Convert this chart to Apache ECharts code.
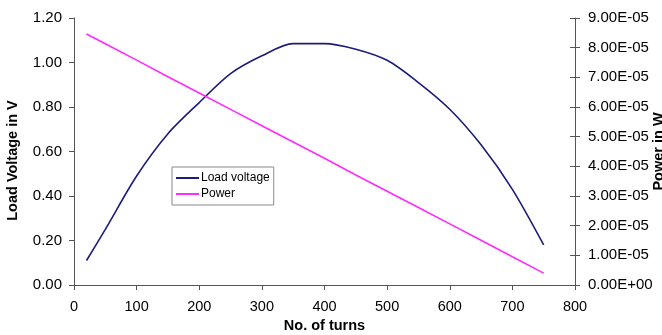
<!DOCTYPE html>
<html>
<head>
<meta charset="utf-8">
<script src="https://cdn.jsdelivr.net/npm/echarts@6/dist/echarts.min.js"></script>
<style>
html, body { margin: 0; padding: 0; background: #fff; }
#chart { width: 662px; height: 335px; }
</style>
</head>
<body>
<div id="chart"></div>
<script>
// values
var turns = [20, 50, 100, 150, 200, 250, 300, 350, 400, 450, 500, 550, 600, 650, 700, 750];
var loadVoltage = [0.11, 0.25, 0.49, 0.68, 0.82, 0.95, 1.03, 1.085, 1.085, 1.06, 1.01, 0.91, 0.79, 0.63, 0.43, 0.18];
var power = [8.46e-5, 8.13e-5, 7.58e-5, 7.02e-5, 6.47e-5, 5.92e-5, 5.37e-5, 4.82e-5, 4.27e-5, 3.71e-5, 3.16e-5, 2.61e-5, 2.06e-5, 1.51e-5, 0.95e-5, 0.40e-5];

var font = 'Liberation Sans';
var axisColor = '#555';

function pairs(xs, ys) {
    return xs.map(function (x, i) { return [x, ys[i]]; });
}

var chart = echarts.init(document.getElementById('chart'));

var options = {
    animation: false,

    // Setup grid
    grid: { left: 74, right: 87, top: 18, bottom: 50, outerBoundsMode: 'none' },

    // Legend box inside the plot
    legend: {
        orient: 'vertical',
        left: 172,
        top: 167,
        padding: [5, 4, 5, 4],
        itemGap: 4,
        itemWidth: 23,
        itemHeight: 2,
        icon: 'rect',
        borderColor: '#888',
        borderWidth: 1,
        textStyle: { fontFamily: font, fontSize: 12, color: '#000', padding: [0, 0, 0, -3] },
        data: ['Load voltage', 'Power']
    },

    // Horizontal axis
    xAxis: [{
        type: 'value',
        min: 0,
        max: 800,
        interval: 100,
        name: 'No. of turns',
        nameLocation: 'middle',
        nameGap: 33,
        nameMoveOverlap: false,
        nameTextStyle: { fontFamily: font, fontSize: 14.5, fontWeight: 'bold', color: '#000' },
        axisLine: { lineStyle: { color: axisColor } },
        axisTick: { length: 5, lineStyle: { color: axisColor } },
        axisLabel: { fontFamily: font, fontSize: 14.5, color: '#000', margin: 14 },
        splitLine: { show: false }
    }],

    // Vertical axes
    yAxis: [{
        type: 'value',
        position: 'left',
        min: 0,
        max: 1.2,
        interval: 0.2,
        name: 'Load Voltage in V',
        nameLocation: 'middle',
        nameGap: 54,
        nameMoveOverlap: false,
        nameTextStyle: { fontFamily: font, fontSize: 14.5, fontWeight: 'bold', color: '#000', padding: [0, 0, 0, -18] },
        axisLine: { show: true, lineStyle: { color: axisColor } },
        axisTick: { show: true, length: 5, lineStyle: { color: axisColor } },
        axisLabel: { fontFamily: font, fontSize: 15, color: '#000', margin: 12,
            formatter: function (v) { return v.toFixed(2); } },
        splitLine: { show: false }
    }, {
        type: 'value',
        position: 'right',
        offset: 0,
        min: 0,
        max: 9e-5,
        interval: 1e-5,
        name: 'Power in W',
        nameLocation: 'middle',
        nameGap: 76,
        nameRotate: 90,
        nameMoveOverlap: false,
        nameTextStyle: { fontFamily: font, fontSize: 14.5, fontWeight: 'bold', color: '#000' },
        axisLine: { show: true, lineStyle: { color: axisColor } },
        axisTick: { show: true, length: 5, lineStyle: { color: axisColor } },
        axisLabel: { fontFamily: font, fontSize: 15, color: '#000', margin: 13,
            formatter: function (v) {
                var s = v.toExponential(2).toUpperCase();
                return s.replace(/E([+-])(\d)$/, 'E$10$2');
            } },
        splitLine: { show: false }
    }, {
        // inner half of the crossing ticks on the right axis
        type: 'value',
        position: 'right',
        offset: 0,
        min: 0,
        max: 9e-5,
        interval: 1e-5,
        axisLine: { show: false },
        axisTick: { show: true, inside: true, length: 5, lineStyle: { color: axisColor } },
        axisLabel: { show: false },
        splitLine: { show: false }
    }],

    // Add series
    series: [{
        name: 'Load voltage',
        type: 'line',
        yAxisIndex: 0,
        showSymbol: false,
        symbol: 'none',
        smooth: 0.3,
        color: '#1c1c7a',
        lineStyle: { width: 1.6, color: '#1c1c7a' },
        data: pairs(turns, loadVoltage)
    }, {
        name: 'Power',
        type: 'line',
        yAxisIndex: 1,
        showSymbol: false,
        symbol: 'none',
        color: '#ff2bff',
        lineStyle: { width: 1.6, color: '#ff2bff' },
        data: pairs(turns, power)
    }]
};

chart.setOption(options);
</script>
</body>
</html>
